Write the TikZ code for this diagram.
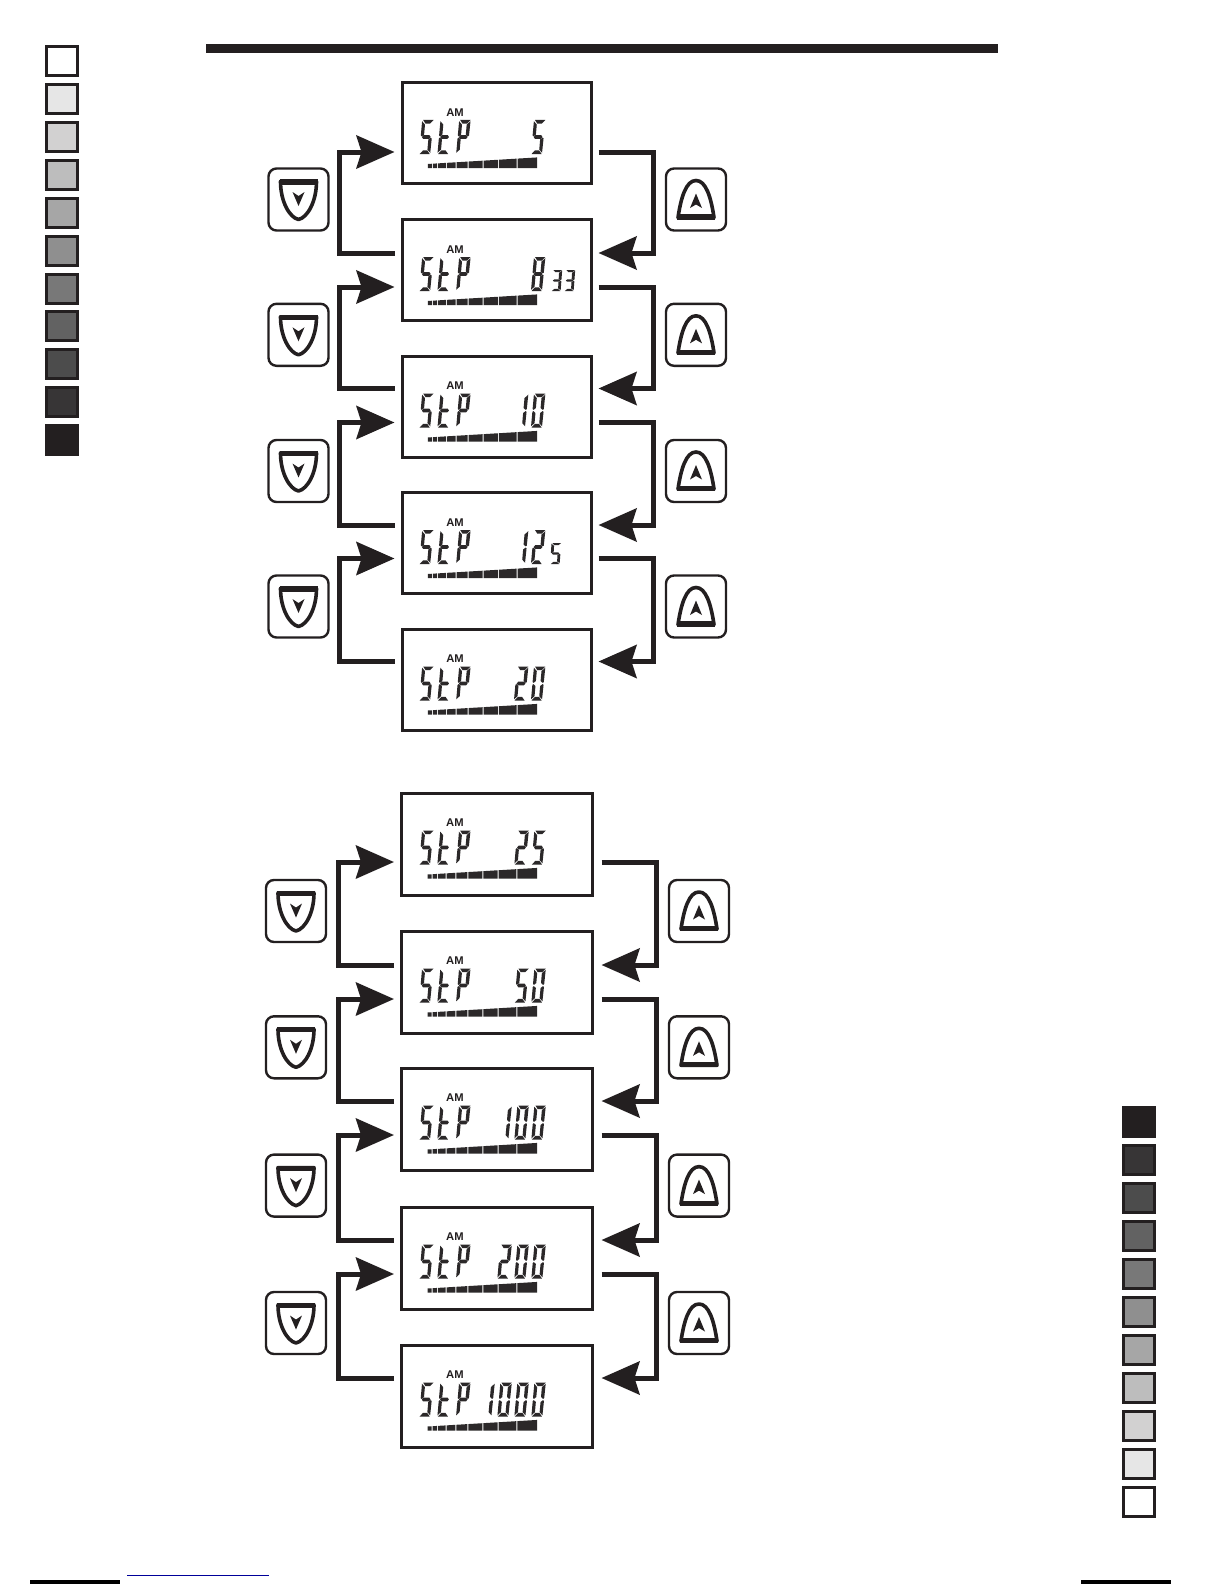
\documentclass[tikz,border=0pt]{standalone}
\usepackage{fontspec}
\setmainfont{Liberation Sans}
\usetikzlibrary{arrows.meta}
\definecolor{ink}{HTML}{231F20}
\definecolor{lcdink}{HTML}{2B2829}
\definecolor{linkblue}{HTML}{000099}
\tikzset{
  lcdbox/.style={draw=ink,line width=1.5pt,fill=white,anchor=north west,outer sep=0pt,inner sep=0pt},
  keybox/.style={draw=ink,line width=1.2pt,rounded corners=4pt,minimum width=30pt,minimum height=31pt,outer sep=0pt,inner sep=0pt},
  swatch/.style={draw=ink,line width=1.5pt,minimum width=15.5pt,minimum height=14.5pt,outer sep=0pt,inner sep=0pt},
  conn/.style={draw=ink,line width=2.5pt,line join=miter,-{Stealth[length=19pt,width=16.5pt,inset=2.5pt]}},
  amlabel/.style={font=\bfseries\fontsize{5.6pt}{6pt}\selectfont,text=ink,inner sep=0pt},
  % real text of a segment read-out: the segments themselves are drawn as shapes
  lcdtext/.style={text opacity=0,font=\fontsize{17pt}{17pt}\selectfont,inner sep=0pt},
  icon/.style={draw=ink,line width=1.8pt,line join=round},
}
\newcommand\lsega{\fill[lcdink] (1,0)--(11.4,0)--(8.2,3.6)--(3.6,3.6)--cycle;}
\newcommand\lsegd{\fill[lcdink] (.6,34)--(10.6,34)--(7.8,30.4)--(3.6,30.4)--cycle;}
\newcommand\lsegg{\fill[lcdink] (2.6,15.2)--(8.6,15.2)--(10,17)--(8.6,18.8)--(2.6,18.8)--(1.2,17)--cycle;}
\newcommand\lsegf{\fill[lcdink] (0,1.2)--(3.2,4.6)--(3.2,14.5)--(1,16.4)--(0,15.5)--cycle;}
\newcommand\lsegb{\fill[lcdink] (11.4,1.2)--(11.2,15.5)--(10.2,16.4)--(7.9,14.5)--(7.9,4.6)--cycle;}
\newcommand\lsege{\fill[lcdink] (0,18.5)--(1,17.6)--(3.2,19.5)--(3.2,29.6)--(0,32.8)--cycle;}
\newcommand\lsegc{\fill[lcdink] (11.2,18.5)--(11,32.8)--(7.9,29.6)--(7.9,19.5)--(10.2,17.6)--cycle;}
\def\chrS{a,f,g,c,d}
\def\chrt{f,e,g,d}
\def\chrP{a,b,f,g,e}
\def\chrZero{a,b,c,d,e,f}
\def\chrOne{b,c}
\def\chrTwo{a,b,g,e,d}
\def\chrThree{a,b,g,c,d}
\def\chrFive{a,f,g,c,d}
\def\chrEight{a,b,c,d,e,f,g}
% big character: #1 x offset from box, #2 name of segment list
\newcommand\bigchr[2]{%
  \begin{scope}[shift={(#1,37.5)},xslant=.09]
    \expandafter\let\expandafter\seglist\csname chr#2\endcsname
    \foreach \s in \seglist {\csname lseg\s\endcsname}
  \end{scope}}
\newcommand\smallchr[2]{%
  \begin{scope}[shift={(#1,50.5)},xslant=.06,xscale=.85,yscale=.62]
    \expandafter\let\expandafter\seglist\csname chr#2\endcsname
    \foreach \s in \seglist {\csname lseg\s\endcsname}
  \end{scope}}
% one display: #1 name, #2 left, #3 top, #4 height(pt), #5 width(pt), #6 value text, #7 value text x, #8 segment drawing
\newcommand\lcd[8]{%
  \node[lcdbox,minimum width=#5,minimum height=#4] (#1) at (#2,#3) {};
  \begin{scope}[shift={(#2,#3)},xshift=\cx pt]
    \node[amlabel] (#1am) at (52.5,30) {AM};
    \bigchr{19.7}{S}\bigchr{38}{t}\bigchr{56.7}{P}
    #8
    \foreach \a/\b in {25.3/29.3,30.3/34.7,35.7/43.3,44.3/53,54/65,66/80,81/95.3,96.3/114,115/134.7}{
      \pgfmathsetmacro\ta{85.5-4-(\a-25)*.06}
      \pgfmathsetmacro\tb{85.5-4-(\b-25)*.06}
      \fill[lcdink] (\a,85.5)--(\b,85.5)--(\b,\tb)--(\a,\ta)--cycle;
    }
    \node[lcdtext] (#1st) at (46,54.5) {StP};
    \node[lcdtext] (#1val) at (#7,54.5) {#6};
  \end{scope}}
% connectors: #1 upper box, #2 lower box, #3 y offset on upper, #4 y offset on lower (in px, from centre)
\newcommand\linkdown[6]{%
  \draw[conn] ([shift={(-\lgap,#4)}]#2.west) -- ++(#5,0) |- ([shift={(-\lgap,#3)}]#1.west);
  \draw[conn] ([shift={(\rgap,#3)}]#1.east) -- ++(#6,0) |- ([shift={(\rgap,#4)}]#2.east);
}
\newcommand\downicon[1]{%
  \begin{scope}[shift={(#1.center)}]
    \draw[icon] (-18,-18)--(18,-18) .. controls (18,2) and (9,18) .. (0,20) .. controls (-9,18) and (-18,2) .. (-18,-18) -- cycle;
    \draw[draw=ink,line width=2.6pt] (-19,-17.5)--(19,-17.5);
    \fill[ink] (0,6.5)--(-6,-7.5)--(0,-3.5)--(6,-7.5)--cycle;
  \end{scope}}
\newcommand\upicon[1]{%
  \begin{scope}[shift={(#1.center)}]
    \draw[icon] (-18,18) .. controls (-15,-2) and (-10,-19) .. (0,-19) .. controls (10,-19) and (15,-2) .. (18,18) -- cycle;
    \draw[draw=ink,line width=2.6pt] (-19,17.5)--(19,17.5);
    \fill[ink] (0,-6)--(6,8.5)--(0,5)--(-6,8.5)--cycle;
  \end{scope}}
\begin{document}
\begin{tikzpicture}[x=.5pt,y=-.5pt]
\useasboundingbox (0,0) rectangle (1224,1584);
% rules
\fill[ink] (206,44) rectangle (998,53);
\fill[black] (30,1580) rectangle (120,1584);
\fill[black] (1081,1580) rectangle (1171,1584);
\draw[linkblue,line width=.5pt] (127,1575) -- (269,1575);
% swatches
\foreach \i/\c in {0/FFFFFF,1/E6E6E6,2/D2D1D1,3/BDBDBD,4/A6A6A6,5/8F8F8F,6/787878,7/626262,8/4C4C4C,9/373536,10/231F20}{
  \definecolor{sw}{HTML}{\c}
  \node[swatch,fill=sw] (sl\i) at (62,{60.8+37.95*\i}) {};
}
\foreach \i/\c in {0/231F20,1/373536,2/4C4C4C,3/626262,4/787878,5/8F8F8F,6/A6A6A6,7/BDBDBD,8/D2D1D1,9/E6E6E6,10/FFFFFF}{
  \definecolor{sw}{HTML}{\c}
  \node[swatch,fill=sw] (sr\i) at (1138.5,{1122+37.95*\i}) {};
}
% upper group
\def\lgap{8}\def\rgap{7}\def\cx{0}
\lcd{a1}{402.5}{82.5}{50.5pt}{94.5pt}{5}{137}{\bigchr{131.5}{Five}}
\lcd{a2}{402.5}{219.5}{50.5pt}{94.5pt}{833}{149}{\bigchr{131.5}{Eight}\smallchr{150}{Three}\smallchr{163}{Three}}
\lcd{a3}{402.5}{356}{50.5pt}{94.5pt}{10}{129}{\bigchr{114.5}{One}\bigchr{131.5}{Zero}}
\lcd{a4}{402.5}{492.5}{50.5pt}{94.5pt}{125}{139}{\bigchr{114.5}{One}\bigchr{131.5}{Two}\smallchr{149}{Five}}
\lcd{a5}{402.5}{629}{50.5pt}{94.5pt}{20}{129}{\bigchr{114.5}{Two}\bigchr{131.5}{Zero}}
\linkdown{a1}{a2}{19}{-17}{-55}{55}
\linkdown{a2}{a3}{17}{-18}{-55}{55}
\linkdown{a3}{a4}{16}{-18}{-55}{55}
\linkdown{a4}{a5}{15.5}{-18}{-55}{55}
\foreach \n/\y in {1/199.5,2/334.8,3/471,4/606.5}{
  \node[keybox] (kd\n) at (298.5,\y) {};
  \downicon{kd\n}
  \node[keybox] (ku\n) at (696,\y) {};
  \upicon{ku\n}
}
% lower group
\def\lgap{7}\def\rgap{9.5}\def\cx{0.7}
\lcd{b1}{401}{793}{51pt}{95.5pt}{25}{129}{\bigchr{115}{Two}\bigchr{132}{Five}}
\lcd{b2}{401}{931}{51pt}{95.5pt}{50}{129}{\bigchr{115}{Five}\bigchr{132}{Zero}}
\lcd{b3}{401}{1068}{51pt}{95.5pt}{100}{121}{\bigchr{98}{One}\bigchr{115}{Zero}\bigchr{132}{Zero}}
\lcd{b4}{401}{1207}{51pt}{95.5pt}{200}{121}{\bigchr{98}{Two}\bigchr{115}{Zero}\bigchr{132}{Zero}}
\lcd{b5}{401}{1345}{51pt}{95.5pt}{1000}{112}{\bigchr{81}{One}\bigchr{98}{Zero}\bigchr{115}{Zero}\bigchr{132}{Zero}}
\linkdown{b1}{b2}{18}{-17}{-56}{55}
\linkdown{b2}{b3}{17}{-18}{-56}{55}
\linkdown{b3}{b4}{16}{-18}{-56}{55}
\linkdown{b4}{b5}{16}{-18}{-56}{55}
\foreach \n/\y in {1/911,2/1047.3,3/1185.6,4/1323}{
  \node[keybox] (md\n) at (296,\y) {};
  \downicon{md\n}
  \node[keybox] (mu\n) at (699,\y) {};
  \upicon{mu\n}
}
\end{tikzpicture}
\end{document}
